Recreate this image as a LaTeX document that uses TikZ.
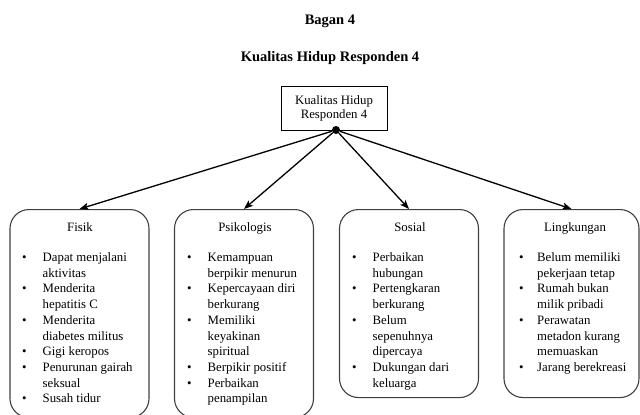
\documentclass[tikz,border=0pt]{standalone}
\usepackage{fontspec}
\setmainfont{Liberation Serif}
\usetikzlibrary{arrows.meta}
\begin{document}
\begin{tikzpicture}[x=1pt,y=-1pt,
  body/.style={font=\fontsize{12.8}{15.7}\selectfont},
  heading/.style={font=\fontsize{14.5}{17}\selectfont\bfseries},
  aspect/.style={draw=black!75,line width=1.1pt,rounded corners=19pt,
    minimum width=139pt,inner sep=0pt,anchor=north},
  aspecttitle/.style={body,anchor=base,inner sep=0pt},
  itemlist/.style={body,anchor=base west,inner sep=0pt},
  branch/.style={line width=1.3pt,-{Stealth[length=9pt,width=7pt,inset=2pt]}}]
\useasboundingbox (0,0) rectangle (640,415);

% headings
\node[heading] (bagan) at (330,21) {Bagan 4};
\node[heading] (judul) at (330,58) {Kualitas Hidup Responden 4};

% root box and hub
\node[draw,line width=1pt,minimum width=106pt,minimum height=44pt,align=center,
  body,font=\fontsize{12.8}{14}\selectfont] (root) at (334,108)
  {Kualitas Hidup\\Responden 4};
\node[circle,fill,inner sep=0pt,minimum size=8pt] (hub) at (336,130) {};

% the four aspect boxes
\node[aspect,minimum height=208pt] (fisik) at (79.5,209) {};
\node[aspect,minimum height=208pt] (psiko) at (244,209) {};
\node[aspect,minimum height=188pt] (sosial) at (409,209) {};
\node[aspect,minimum width=135pt,minimum height=188pt] (ling) at (571.5,209) {};

% branches
\draw[branch] (hub) -- (fisik.north);
\draw[branch] (hub) -- (psiko.north);
\draw[branch] (hub) -- (sosial.north);
\draw[branch] (hub) -- (ling.north);

% box titles
\node[aspecttitle] (tfisik) at (80,231) {Fisik};
\node[aspecttitle] (tpsiko) at (245,231) {Psikologis};
\node[aspecttitle] (tsosial) at (410,231) {Sosial};
\node[aspecttitle] (tling) at (575,231) {Lingkungan};

% box contents
\node[itemlist] (lfisik) at (22,261.5) {\begin{tabular}[t]{@{}p{20.5pt}@{}l@{}}
\textbullet & Dapat menjalani\\ & aktivitas\\
\textbullet & Menderita\\ & hepatitis C\\
\textbullet & Menderita\\ & diabetes militus\\
\textbullet & Gigi keropos\\
\textbullet & Penurunan gairah\\ & seksual\\
\textbullet & Susah tidur\end{tabular}};

\node[itemlist] (lpsiko) at (187,261.5) {\begin{tabular}[t]{@{}p{20.5pt}@{}l@{}}
\textbullet & Kemampuan\\ & berpikir menurun\\
\textbullet & Kepercayaan diri\\ & berkurang\\
\textbullet & Memiliki\\ & keyakinan\\ & spiritual\\
\textbullet & Berpikir positif\\
\textbullet & Perbaikan\\ & penampilan\end{tabular}};

\node[itemlist] (lsosial) at (352,261.5) {\begin{tabular}[t]{@{}p{20.5pt}@{}l@{}}
\textbullet & Perbaikan\\ & hubungan\\
\textbullet & Pertengkaran\\ & berkurang\\
\textbullet & Belum\\ & sepenuhnya\\ & dipercaya\\
\textbullet & Dukungan dari\\ & keluarga\end{tabular}};

\node[itemlist] (lling) at (519,261.5) {\begin{tabular}[t]{@{}p{18pt}@{}l@{}}
\textbullet & Belum memiliki\\ & pekerjaan tetap\\
\textbullet & Rumah bukan\\ & milik pribadi\\
\textbullet & Perawatan\\ & metadon kurang\\ & memuaskan\\
\textbullet & Jarang berekreasi\end{tabular}};
\end{tikzpicture}
\end{document}
